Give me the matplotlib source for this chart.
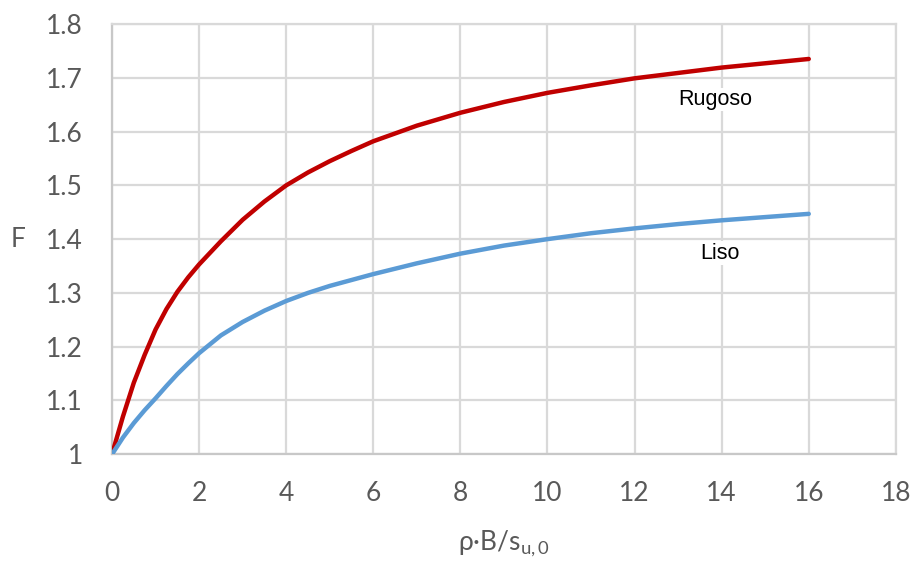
import numpy as np
import matplotlib
matplotlib.use("Agg")
from matplotlib import pyplot as plt

# values
x = [0, 0.25, 0.5, 0.75, 1, 1.25, 1.5, 1.75, 2, 2.5, 3, 3.5, 4, 4.5, 5, 5.5, 6,
     7, 8, 9, 10, 11, 12, 13, 14, 15, 16]
rugoso = [1.0, 1.07, 1.133, 1.185, 1.232, 1.270, 1.302, 1.329, 1.353, 1.396, 1.436, 1.470, 1.500,
          1.524, 1.545, 1.564, 1.582, 1.611, 1.635, 1.655, 1.672, 1.686, 1.699, 1.709, 1.719,
          1.727, 1.735]
liso = [1.0, 1.031, 1.058, 1.082, 1.104, 1.127, 1.149, 1.169, 1.188, 1.221, 1.246, 1.267, 1.285,
        1.300, 1.313, 1.324, 1.335, 1.355, 1.373, 1.388, 1.400, 1.411, 1.420, 1.428, 1.435,
        1.441, 1.447]
xticks = [0, 2, 4, 6, 8, 10, 12, 14, 16, 18]
yticks = [1, 1.1, 1.2, 1.3, 1.4, 1.5, 1.6, 1.7, 1.8]
yticklabels = ['1', '1.1', '1.2', '1.3', '1.4', '1.5', '1.6', '1.7', '1.8']

plt.rcParams['font.family'] = ['Lato', 'DejaVu Sans']
plt.rcParams['mathtext.fontset'] = 'custom'
plt.rcParams['mathtext.rm'] = 'Lato'
plt.rcParams['mathtext.it'] = 'Lato'

grid_c = '#d9d9d9'
text_c = '#595959'

fig = plt.figure(figsize=(9.16, 5.65), dpi=100)
ax = fig.add_axes([0.1223, 0.196, 0.8557, 0.7615])

ax.plot(x, rugoso, color='#C00000', lw=3.2, solid_capstyle='round', solid_joinstyle='round', zorder=3)
ax.plot(x, liso, color='#5B9BD5', lw=3.2, solid_capstyle='round', solid_joinstyle='round', zorder=3)

ax.set_xlim(0, 18)
ax.set_ylim(1, 1.8)
ax.set_xticks(xticks)
ax.set_yticks(yticks)
ax.set_yticklabels(yticklabels)
ax.grid(True, color=grid_c, lw=1.6)
ax.set_axisbelow(True)
for s in ax.spines.values():
    s.set_color(grid_c)
    s.set_linewidth(1.6)
ax.spines['left'].set_color('#c8c8c8')
ax.spines['bottom'].set_color('#c8c8c8')
ax.tick_params(length=0, labelsize=19, colors=text_c)
ax.tick_params(axis='x', pad=19)
ax.tick_params(axis='y', pad=21)

ax.set_xlabel(r'ρ·B/s$_{\mathrm{u,0}}$', fontsize=19, color=text_c, labelpad=17)
ax.set_ylabel('F', fontsize=19, color=text_c, rotation=0, labelpad=20, va='center')

box = dict(facecolor='white', edgecolor='none', pad=1)
ax.text(13.85, 1.66, 'Rugoso', fontsize=15.5, family='Liberation Sans', color='black',
        ha='center', va='center', bbox=box, zorder=4)
ax.text(13.97, 1.374, 'Liso', fontsize=15.5, family='Liberation Sans', color='black',
        ha='center', va='center', bbox=box, zorder=4)

fig.savefig('out.png', dpi=100)
